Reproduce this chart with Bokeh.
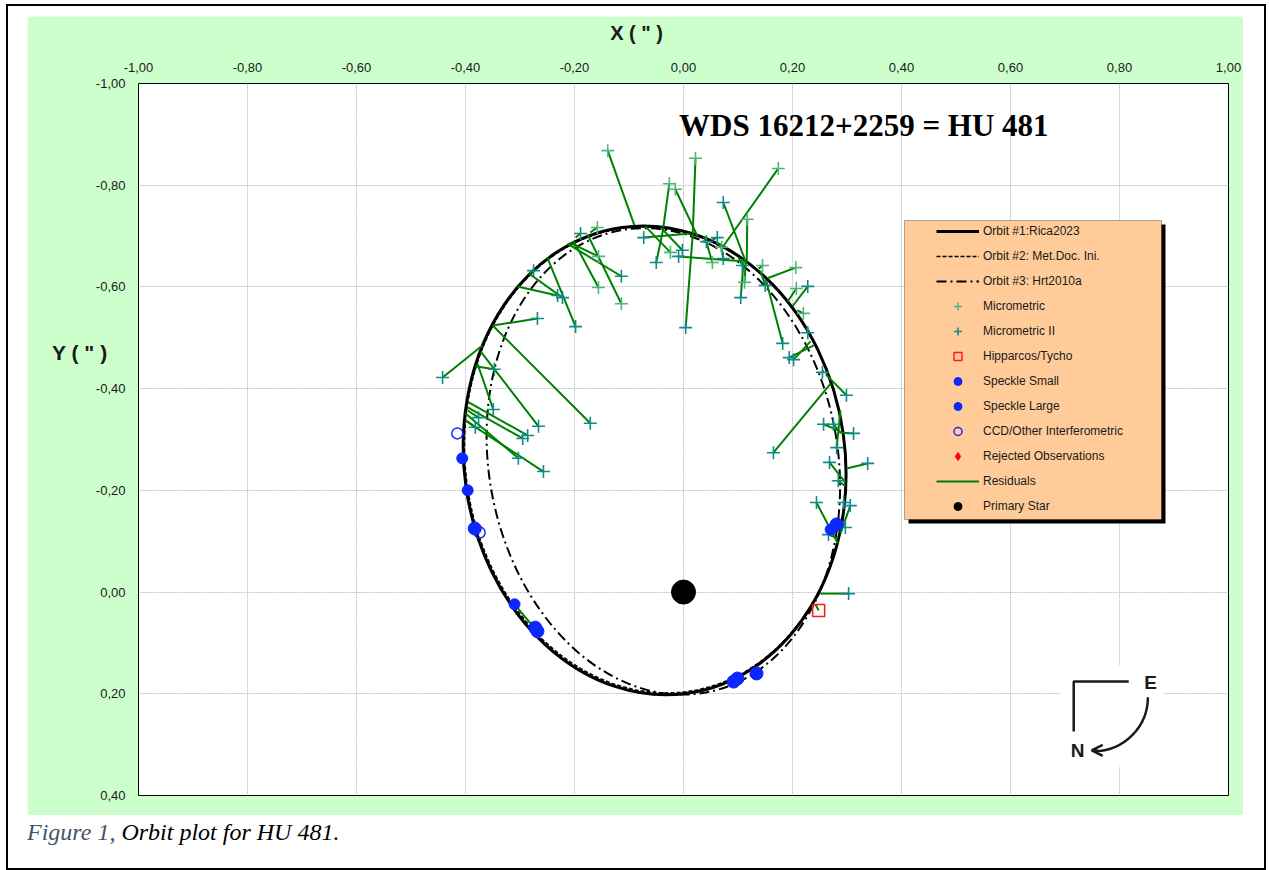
import math
from bokeh.plotting import figure
from bokeh.layouts import column
from bokeh.models import (Range1d, FixedTicker, CustomJSTickFormatter, Label, BoxAnnotation,
                          Legend, LegendItem, Arrow, OpenHead, LinearAxis, Div)
from bokeh.embed import file_html
from bokeh.resources import INLINE
from bokeh.core.properties import value

# ---------------- data ----------------
x_ticks = [-1.0, -0.8, -0.6, -0.4, -0.2, 0.0, 0.2, 0.4, 0.6, 0.8, 1.0]
y_ticks = [-1.0, -0.8, -0.6, -0.4, -0.2, 0.0, 0.2, 0.4]

# orbits (ellipse centre, full width/height in arcsec, tilt in degrees)
orbit_names = ["Orbit #1:Rica2023", "Orbit #2: Met.Doc. Ini.", "Orbit #3: Hrt2010a"]
orbit_cx = [-0.053, -0.052, -0.037]
orbit_cy = [-0.259, -0.260, -0.257]
orbit_w = [0.699, 0.696, 0.640]
orbit_h = [0.925, 0.920, 0.924]
orbit_tilt = [8.0, 8.3, 10.5]

# Micrometric observations and their computed positions
mic_x = [-0.139, 0.022, -0.026, -0.015, 0.174, 0.117, -0.024, 0.070, 0.053, 0.112, 0.145, 0.206, 0.207, 0.220, -0.158, -0.156, -0.156, -0.114]
mic_y = [-0.868, -0.853, -0.803, -0.792, -0.833, -0.733, -0.668, -0.678, -0.648, -0.609, -0.642, -0.638, -0.597, -0.548, -0.717, -0.660, -0.599, -0.567]
mic_fx = [-0.090, 0.017, -0.037, 0.026, 0.073, 0.116, -0.070, 0.061, 0.040, 0.114, 0.138, 0.154, 0.191, 0.209, -0.171, -0.209, -0.202, -0.176]
mic_fy = [-0.721, -0.705, -0.717, -0.699, -0.680, -0.646, -0.719, -0.689, -0.695, -0.648, -0.636, -0.617, -0.571, -0.554, -0.707, -0.687, -0.691, -0.703]

# Micrometric II observations and their computed positions
mic2_x = [0.073, -0.050, 0.004, -0.073, -0.009, -0.002, 0.042, 0.062, 0.073, 0.108,
          0.105, 0.150, 0.228, 0.228, 0.182, 0.194, 0.202, 0.255, 0.299, 0.165,
          0.257, 0.275, 0.312, 0.281, 0.268, 0.338, 0.284, 0.244, 0.294, 0.306,
          0.266, 0.297, 0.303, -0.189, -0.114, -0.198, -0.275, -0.222, -0.231, -0.268,
          -0.171, -0.442, -0.266, -0.349, -0.347, -0.286, -0.295, -0.303, -0.257, -0.376,
          -0.382]
mic2_y = [-0.766, -0.648, -0.520, -0.697, -0.660, -0.672, -0.689, -0.697, -0.656, -0.642,
          -0.579, -0.603, -0.601, -0.510, -0.489, -0.461, -0.457, -0.432, -0.387, -0.274,
          -0.330, -0.330, -0.312, -0.284, -0.255, -0.253, -0.219, -0.176, -0.176, -0.170,
          -0.113, -0.127, 0.003, -0.705, -0.621, -0.522, -0.632, -0.579, -0.583, -0.538,
          -0.332, -0.422, -0.326, -0.359, -0.438, -0.308, -0.302, -0.263, -0.237, -0.343,
          -0.324]
mic2_fx = [0.114, -0.037, 0.017, 0.013, 0.114, -0.042, 0.037, 0.053, 0.068, 0.101,
           0.110, 0.141, 0.200, 0.226, 0.152, 0.239, 0.233, 0.257, 0.261, 0.270,
           0.284, 0.288, 0.286, 0.288, 0.297, 0.299, 0.297, 0.283, 0.294, 0.288,
           0.284, 0.292, 0.251, -0.198, -0.213, -0.250, -0.283, -0.283, -0.305, -0.350,
           -0.350, -0.369, -0.372, -0.378, -0.382, -0.394, -0.396, -0.400, -0.400, -0.396,
           -0.398]
mic2_fy = [-0.650, -0.715, -0.705, -0.705, -0.650, -0.717, -0.699, -0.693, -0.685, -0.658,
           -0.648, -0.632, -0.562, -0.520, -0.611, -0.485, -0.493, -0.436, -0.428, -0.410,
           -0.318, -0.314, -0.314, -0.357, -0.215, -0.243, -0.208, -0.096, -0.180, -0.115,
           -0.105, -0.131, 0.003, -0.697, -0.685, -0.658, -0.626, -0.626, -0.601, -0.524,
           -0.524, -0.485, -0.473, -0.449, -0.444, -0.373, -0.363, -0.351, -0.337, -0.357,
           -0.337]

# Hipparcos / Tycho
hip_x = [0.248]
hip_y = [0.036]
hip_fx = [0.242]
hip_fy = [0.024]

# Speckle
spk_small_x = [-0.310, -0.406, -0.396, 0.270]
spk_small_y = [0.024, -0.263, -0.200, -0.123]
spk_large_x = [-0.268, -0.272, 0.092, 0.099, 0.134, -0.383, 0.281]
spk_large_y = [0.077, 0.070, 0.176, 0.170, 0.160, -0.125, -0.133]
spk_res_x = [-0.310]
spk_res_y = [0.024]
spk_res_fx = [-0.275]
spk_res_fy = [0.069]

# CCD / other interferometric
ccd_x = [-0.415, -0.374]
ccd_y = [-0.312, -0.117]

# primary star
prim_x = [0.0]
prim_y = [0.0]

NAN = [float("nan")]

# ---------------- figure (the green panel) ----------------
GREEN = "#CCFFCC"
p = figure(width=1216, height=799, output_backend="svg", toolbar_location=None,
           x_range=Range1d(-1.0, 1.0), y_range=Range1d(0.4, -1.0),
           x_axis_location="above",
           min_border_left=111, min_border_right=15, min_border_top=67, min_border_bottom=20)
p.border_fill_color = GREEN
p.background_fill_color = "white"
p.outline_line_color = "black"
p.outline_line_width = 1

fmt = CustomJSTickFormatter(code="""
const v = Math.abs(tick) < 1e-9 ? 0 : tick;
return v.toFixed(2).replace('.', ',');
""")
p.xaxis.ticker = FixedTicker(ticks=x_ticks)
p.yaxis.ticker = FixedTicker(ticks=y_ticks)
for ax in (p.xaxis, p.yaxis):
    ax.formatter = fmt
    ax.axis_line_color = None
    ax.major_tick_line_color = None
    ax.minor_tick_line_color = None
    ax.major_tick_out = 0
    ax.major_tick_in = 0
    ax.major_label_text_font = "Liberation Sans"
    ax.major_label_text_font_size = "13px"
    ax.major_label_text_color = "#1a1a1a"
p.xaxis.major_label_standoff = 12
p.yaxis.major_label_standoff = 13
p.grid.grid_line_color = "#c4c4c4"
p.grid.grid_line_dash = "2 1"
p.grid.grid_line_width = 1

# axis titles as single-tick axes placed outside the tick labels
x_title_at = -0.086
y_title_at = -0.471
xt = LinearAxis(ticker=FixedTicker(ticks=[x_title_at]),
                major_label_overrides={x_title_at: 'X ( " )'},
                axis_line_color=None, major_tick_line_color=None, minor_tick_line_color=None,
                major_tick_out=0, major_tick_in=0, major_label_standoff=16,
                major_label_text_font="Liberation Sans", major_label_text_font_style="bold",
                major_label_text_font_size="20px", major_label_text_color="#1a1a1a")
p.add_layout(xt, "above")
yt = LinearAxis(ticker=FixedTicker(ticks=[y_title_at]),
                major_label_overrides={y_title_at: 'Y ( " )'},
                axis_line_color=None, major_tick_line_color=None, minor_tick_line_color=None,
                major_tick_out=0, major_tick_in=0, major_label_standoff=-15,
                major_label_text_font="Liberation Sans", major_label_text_font_style="bold",
                major_label_text_font_size="21px", major_label_text_color="#1a1a1a")
p.add_layout(yt, "left")

# orbits
styles = [dict(line_color="black", line_width=3, line_dash="solid"),
          dict(line_color="black", line_width=1.6, line_dash="4 2"),
          dict(line_color="black", line_width=2, line_dash="10 4 2 4")]
for i in (2, 1, 0):
    p.ellipse(x=[orbit_cx[i]], y=[orbit_cy[i]], width=[orbit_w[i]], height=[orbit_h[i]],
              angle=[math.radians(orbit_tilt[i])], fill_color=None, **styles[i])
orbit_proxy = [p.line(x=NAN * 2, y=NAN * 2, **styles[i]) for i in range(3)]

# residuals
res_x0 = mic_x + mic2_x + hip_x + spk_res_x
res_y0 = mic_y + mic2_y + hip_y + spk_res_y
res_x1 = mic_fx + mic2_fx + hip_fx + spk_res_fx
res_y1 = mic_fy + mic2_fy + hip_fy + spk_res_fy
r_res = p.segment(x0=res_x0, y0=res_y0, x1=res_x1, y1=res_y1,
                  line_color="#008000", line_width=2)

r_mic = p.scatter(x=mic_x, y=mic_y, marker="cross", size=13, line_color="#4cb87a",
                  line_width=1.6)
r_mic2 = p.scatter(x=mic2_x, y=mic2_y, marker="cross", size=13, line_color="#118a8a",
                   line_width=1.6)
r_hip = p.scatter(x=hip_x, y=hip_y, marker="square", size=12, fill_color=None,
                  line_color="#ff1a1a", line_width=1.5)
r_ccd = p.scatter(x=ccd_x, y=ccd_y, marker="circle", size=11, fill_color=None,
                  line_color="#2020ff", line_width=1.5)
r_spk_s = p.scatter(x=spk_small_x, y=spk_small_y, marker="circle", size=11,
                    fill_color="#0a28ff", line_color="#0a28ff")
r_spk_l = p.scatter(x=spk_large_x, y=spk_large_y, marker="circle", size=13,
                    fill_color="#0a28ff", line_color="#0a28ff")
r_rej = p.scatter(x=NAN, y=NAN, marker="diamond", size=10, fill_color="#ff0000",
                  line_color="#ff0000")
r_prim = p.scatter(x=prim_x, y=prim_y, marker="circle", size=24, fill_color="black",
                   line_color="black")

# compass (N / E orientation)
p.quad(left=[0.692], right=[0.881], top=[0.145], bottom=[0.343], fill_color="white",
       line_color=None)
p.line(x=[0.817, 0.716, 0.716], y=[0.176, 0.176, 0.274], line_color="#1a1a1a",
       line_width=2.5)
p.arc(x=[0.753], y=[0.2066], radius=54, radius_units="screen", start_angle=-math.pi / 2,
      end_angle=0, direction="anticlock", line_color="#1a1a1a", line_width=2.5)
p.text(x=[0.857, 0.723], y=[0.178, 0.3115], text=["E", "N"], text_font=value("Liberation Sans"),
       text_font_style="bold", text_font_size="19px", text_align="center",
       text_baseline="middle", text_color="#1a1a1a")
p.add_layout(Arrow(end=OpenHead(size=11, line_width=2.5, line_color="#1a1a1a"),
                   x_start=0.760, y_start=0.3115, x_end=0.749, y_end=0.3115,
                   line_width=2.5, line_color="#1a1a1a"))

# legend panel with shadow
def sbox(l, r, b, t, **kw):
    return BoxAnnotation(left=l, right=r, bottom=b, top=t, left_units="screen",
                         right_units="screen", bottom_units="screen", top_units="screen", **kw)

p.add_layout(sbox(770, 1027, 272, 571, fill_color="black", fill_alpha=1, line_color=None))
p.add_layout(sbox(766, 1023, 276, 575, fill_color="#FFCC99", fill_alpha=1,
                  line_color="black", line_width=1))

items = [LegendItem(label=orbit_names[0], renderers=[orbit_proxy[0]]),
         LegendItem(label=orbit_names[1], renderers=[orbit_proxy[1]]),
         LegendItem(label=orbit_names[2], renderers=[orbit_proxy[2]]),
         LegendItem(label="Micrometric", renderers=[r_mic]),
         LegendItem(label="Micrometric II", renderers=[r_mic2]),
         LegendItem(label="Hipparcos/Tycho", renderers=[r_hip]),
         LegendItem(label="Speckle Small", renderers=[r_spk_s]),
         LegendItem(label="Speckle Large", renderers=[r_spk_l]),
         LegendItem(label="CCD/Other Interferometric", renderers=[r_ccd]),
         LegendItem(label="Rejected Observations", renderers=[r_rej]),
         LegendItem(label="Residuals", renderers=[r_res]),
         LegendItem(label="Primary Star", renderers=[r_prim])]
legend = Legend(items=items, location=(798, 279), orientation="vertical",
                glyph_width=43, glyph_height=20, label_height=20, spacing=5,
                padding=0, margin=0, label_standoff=4,
                label_text_font="Liberation Sans", label_text_font_size="12px",
                label_text_color="#1a1a1a", background_fill_alpha=0, border_line_alpha=0)
p.add_layout(legend, "center")

p.add_layout(Label(x=0.338, y=-0.917, text="WDS 16212+2259  = HU 481",
                   text_font="Liberation Serif", text_font_style="bold",
                   text_font_size="31px", text_align="center", text_baseline="middle",
                   text_color="black"))

caption = Div(text='<div style="font-family:\'Liberation Serif\',serif;font-style:italic;'
                   'font-size:24px;line-height:28px;color:black;white-space:nowrap">'
                   '<span style="color:#44546A">Figure 1,</span> Orbit plot for HU 481.</div>',
              width=1216, height=44, margin=(3, 0, 0, 0))

layout = column(p, caption, margin=(4, 0, 0, 6),
                styles={"border": "2px solid black", "padding": "10px 21px 6px 19px",
                        "background-color": "white"})

open("out.html", "w").write(file_html(layout, INLINE))
